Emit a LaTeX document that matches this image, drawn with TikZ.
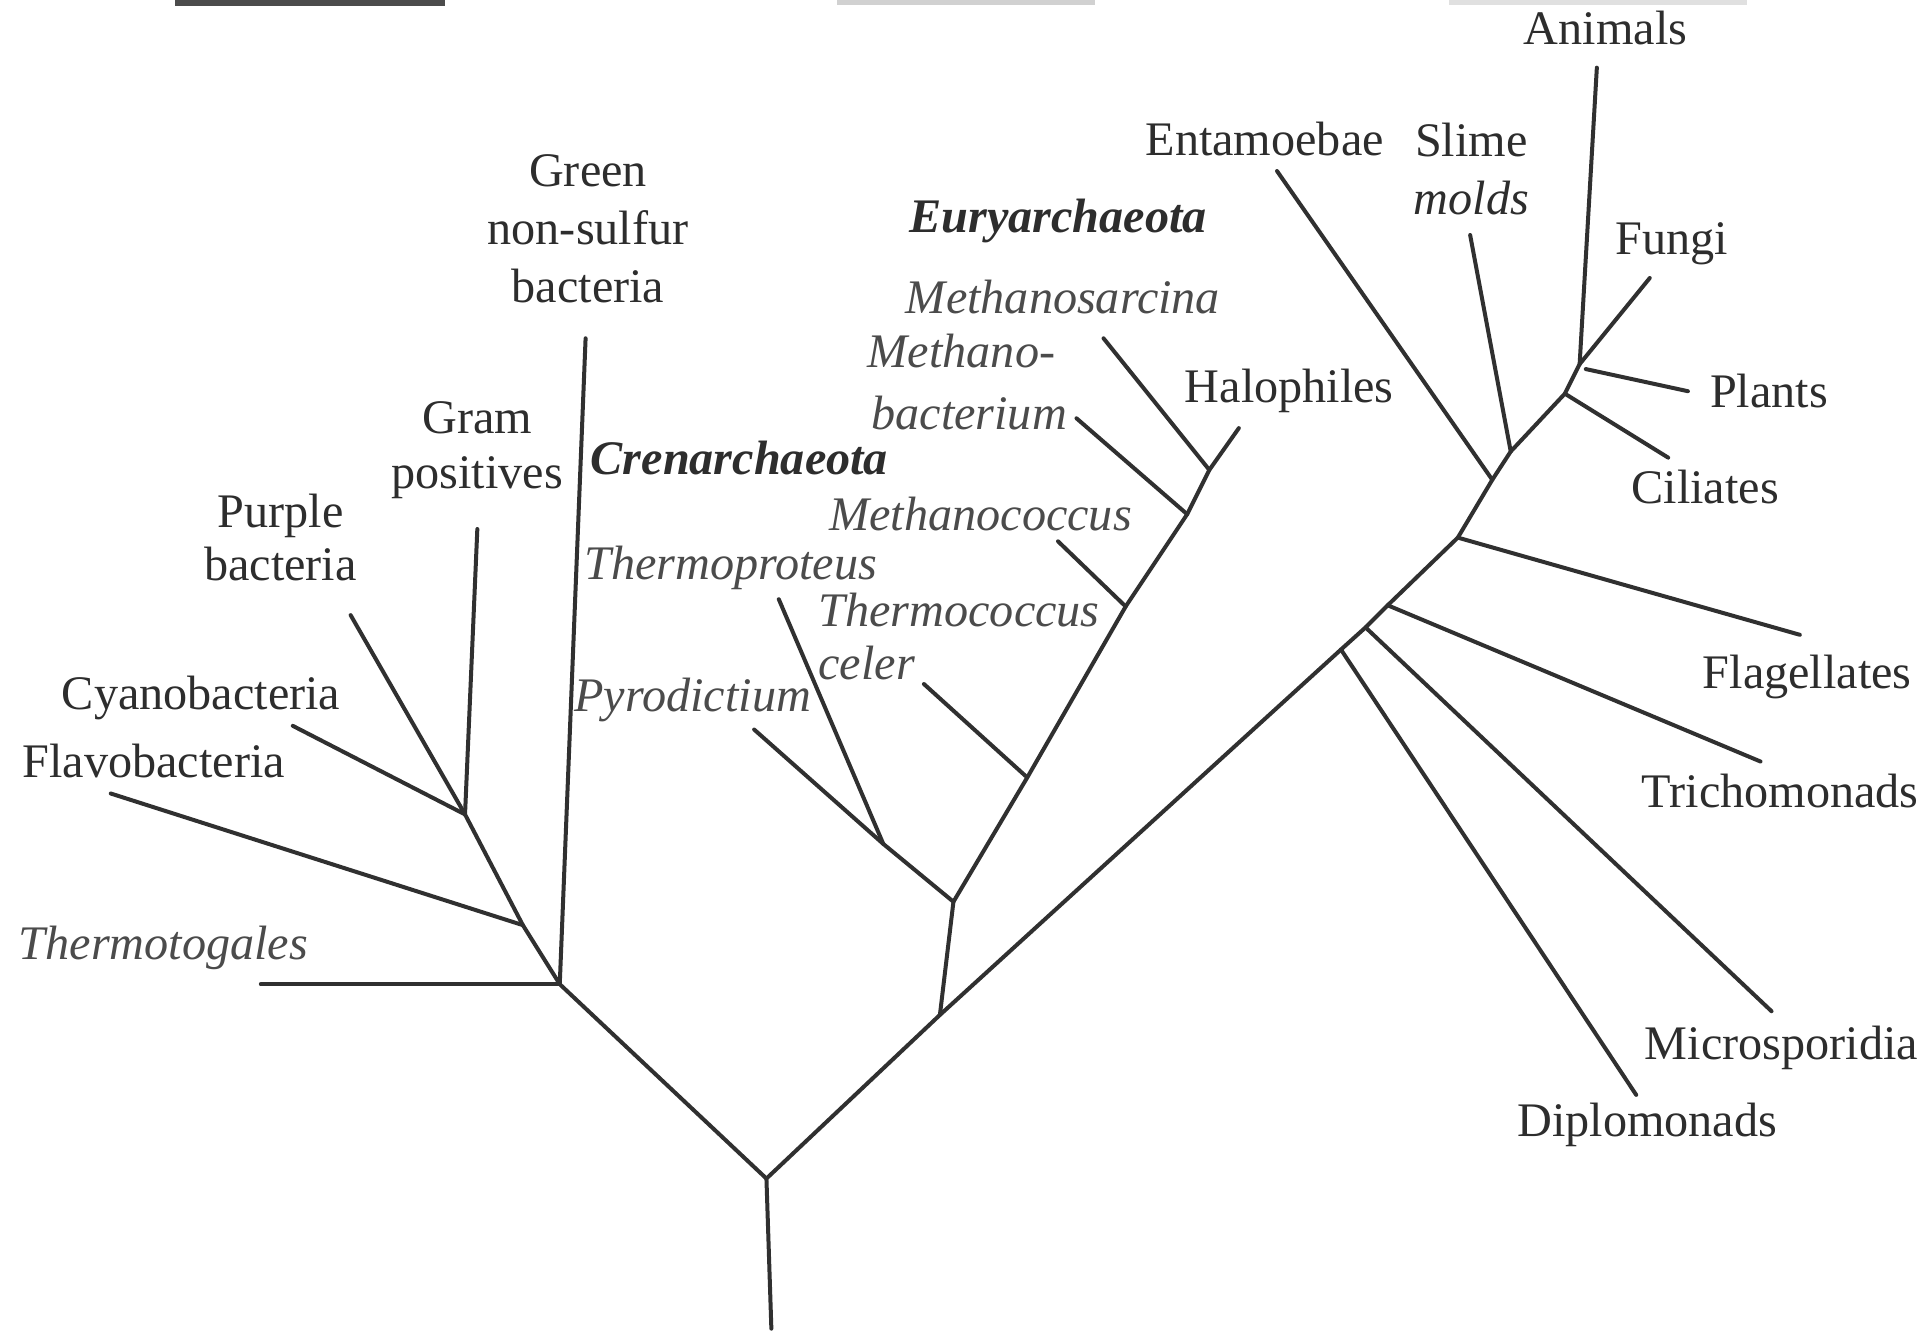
\documentclass[tikz,border=0pt]{standalone}
\usepackage{fontspec}
\setmainfont{Liberation Serif}
\begin{document}
\begin{tikzpicture}[x=0.02cm,y=-0.02cm,
  lbl/.style={inner sep=0pt,text=txtc,font=\fontsize{22.3}{26}\selectfont},
  ilbl/.style={lbl,text=itc,font=\fontsize{22.3}{26}\selectfont\itshape},
  blbl/.style={lbl,font=\fontsize{22.3}{26}\selectfont\bfseries\itshape},
  branch/.style={draw=linec,line width=1.85pt,line cap=round,line join=round}]
\definecolor{linec}{RGB}{48,48,48}
\definecolor{txtc}{RGB}{45,45,45}
\definecolor{itc}{RGB}{75,75,75}
\useasboundingbox[fill=white] (0,0) rectangle (1568,1084);
% cut-off header remnants
\fill[black!70] (142,0) rectangle (362,4.5);
\fill[black!18] (680,0) rectangle (890,4);
\fill[black!12] (1178,0) rectangle (1420,4);
% ---------- coordinates ----------
\coordinate (rootb) at (627,1080);
\coordinate (root) at (623,958);
% bacteria
\coordinate (B0) at (455,800);
\coordinate (tThermotog) at (212,800);
\coordinate (tGreen) at (476,275);
\coordinate (B1) at (425,752);
\coordinate (tFlavo) at (90,645);
\coordinate (B2) at (378,662);
\coordinate (tCyano) at (238,590);
\coordinate (tPurple) at (285,500);
\coordinate (tGram) at (388,430);
% archaea
\coordinate (A0) at (764,825);
\coordinate (A1) at (775,733);
\coordinate (C1) at (718,686);
\coordinate (tPyro) at (613,593);
\coordinate (tThermoprot) at (633,487);
\coordinate (E1) at (835,632);
\coordinate (tCeler) at (751,556);
\coordinate (E2) at (915,493);
\coordinate (tMcoccus) at (860,440);
\coordinate (E3) at (965,418);
\coordinate (tMbact) at (875,340);
\coordinate (E4) at (983,382);
\coordinate (tMsarc) at (897,275);
\coordinate (tHalo) at (1007,348);
% eukaryotes
\coordinate (K1) at (1090,528);
\coordinate (tDiplo) at (1330,890);
\coordinate (K2) at (1110,510);
\coordinate (tMicro) at (1440,822);
\coordinate (K3) at (1128,492);
\coordinate (tTricho) at (1431,619);
\coordinate (K4) at (1185,437);
\coordinate (tFlag) at (1463,516);
\coordinate (K5) at (1213,390);
\coordinate (tEnta) at (1038,139);
\coordinate (K6) at (1228,367);
\coordinate (tSlime) at (1195,191);
\coordinate (K7) at (1272,320);
\coordinate (tCili) at (1356,372);
\coordinate (K8) at (1284,296);
\coordinate (K9) at (1289,300);
\coordinate (tPlants) at (1372,318);
\coordinate (tAnimals) at (1298,55);
\coordinate (tFungi) at (1341,226);
% ---------- branches ----------
\draw[branch] (rootb) -- (root) -- (B0) -- (B1) -- (B2) -- (tGram);
\draw[branch] (B0) -- (tThermotog);
\draw[branch] (B0) -- (tGreen);
\draw[branch] (B1) -- (tFlavo);
\draw[branch] (B2) -- (tCyano);
\draw[branch] (B2) -- (tPurple);
\draw[branch] (root) -- (A0) -- (K1) -- (K2) -- (K3) -- (K4) -- (K5) -- (K6) -- (K7) -- (K8) -- (tAnimals);
\draw[branch] (A0) -- (A1) -- (C1) -- (tThermoprot);
\draw[branch] (C1) -- (tPyro);
\draw[branch] (A1) -- (E1) -- (E2) -- (E3) -- (E4) -- (tHalo);
\draw[branch] (E1) -- (tCeler);
\draw[branch] (E2) -- (tMcoccus);
\draw[branch] (E3) -- (tMbact);
\draw[branch] (E4) -- (tMsarc);
\draw[branch] (K1) -- (tDiplo);
\draw[branch] (K2) -- (tMicro);
\draw[branch] (K3) -- (tTricho);
\draw[branch] (K4) -- (tFlag);
\draw[branch] (K5) -- (tEnta);
\draw[branch] (K6) -- (tSlime);
\draw[branch] (K7) -- (tCili);
\draw[branch] (K9) -- (tPlants);
\draw[branch] (K8) -- (tFungi);
% ---------- labels ----------
\node[ilbl,anchor=base west] (lThermotog) at (15,780) {Thermotogales};
\node[lbl,anchor=base west] (lFlavo) at (18,632) {Flavobacteria};
\node[lbl,anchor=base west] (lCyano) at (50,577) {Cyanobacteria};
\node[lbl,anchor=base] (lPurple1) at (228,429) {Purple};
\node[lbl,anchor=base] (lPurple2) at (228,472) {bacteria};
\node[lbl,anchor=base] (lGram1) at (388,352) {Gram};
\node[lbl,anchor=base] (lGram2) at (388,397) {positives};
\node[lbl,anchor=base] (lGreen1) at (478,152) {Green};
\node[lbl,anchor=base] (lGreen2) at (478,199) {non-sulfur};
\node[lbl,anchor=base] (lGreen3) at (478,246) {bacteria};
\node[blbl,anchor=base] (lCren) at (601,386) {Crenarchaeota};
\node[ilbl,anchor=base] (lThermoprot) at (594,471) {Thermoproteus};
\node[ilbl,anchor=base] (lPyro) at (563,578) {Pyrodictium};
\node[blbl,anchor=base] (lEury) at (860,189) {Euryarchaeota};
\node[ilbl,anchor=base] (lMsarc) at (864,255) {Methanosarcina};
\node[ilbl,anchor=base west] (lMbact1) at (705,299) {Methano-};
\node[ilbl,anchor=base west] (lMbact2) at (708,349) {bacterium};
\node[ilbl,anchor=base] (lMcoccus) at (797,431) {Methanococcus};
\node[ilbl,anchor=base west] (lTcoccus1) at (665,509) {Thermococcus};
\node[ilbl,anchor=base west] (lTcoccus2) at (665,552) {celer};
\node[lbl,anchor=base] (lHalo) at (1048,327) {Halophiles};
\node[lbl,anchor=base] (lEnta) at (1028,126) {Entamoebae};
\node[lbl,anchor=base] (lSlime1) at (1196,127) {Slime};
\node[lbl,anchor=base,font=\fontsize{22.3}{26}\selectfont\itshape] (lSlime2) at (1196,174) {molds};
\node[lbl,anchor=base] (lAnimals) at (1305,36) {Animals};
\node[lbl,anchor=base] (lFungi) at (1359,207) {Fungi};
\node[lbl,anchor=base] (lPlants) at (1438,331) {Plants};
\node[lbl,anchor=base] (lCili) at (1386,409) {Ciliates};
\node[lbl,anchor=base] (lFlag) at (1469,560) {Flagellates};
\node[lbl,anchor=base] (lTricho) at (1447,656) {Trichomonads};
\node[lbl,anchor=base] (lMicro) at (1448,861) {Microsporidia};
\node[lbl,anchor=base] (lDiplo) at (1339,924) {Diplomonads};
\end{tikzpicture}
\end{document}
